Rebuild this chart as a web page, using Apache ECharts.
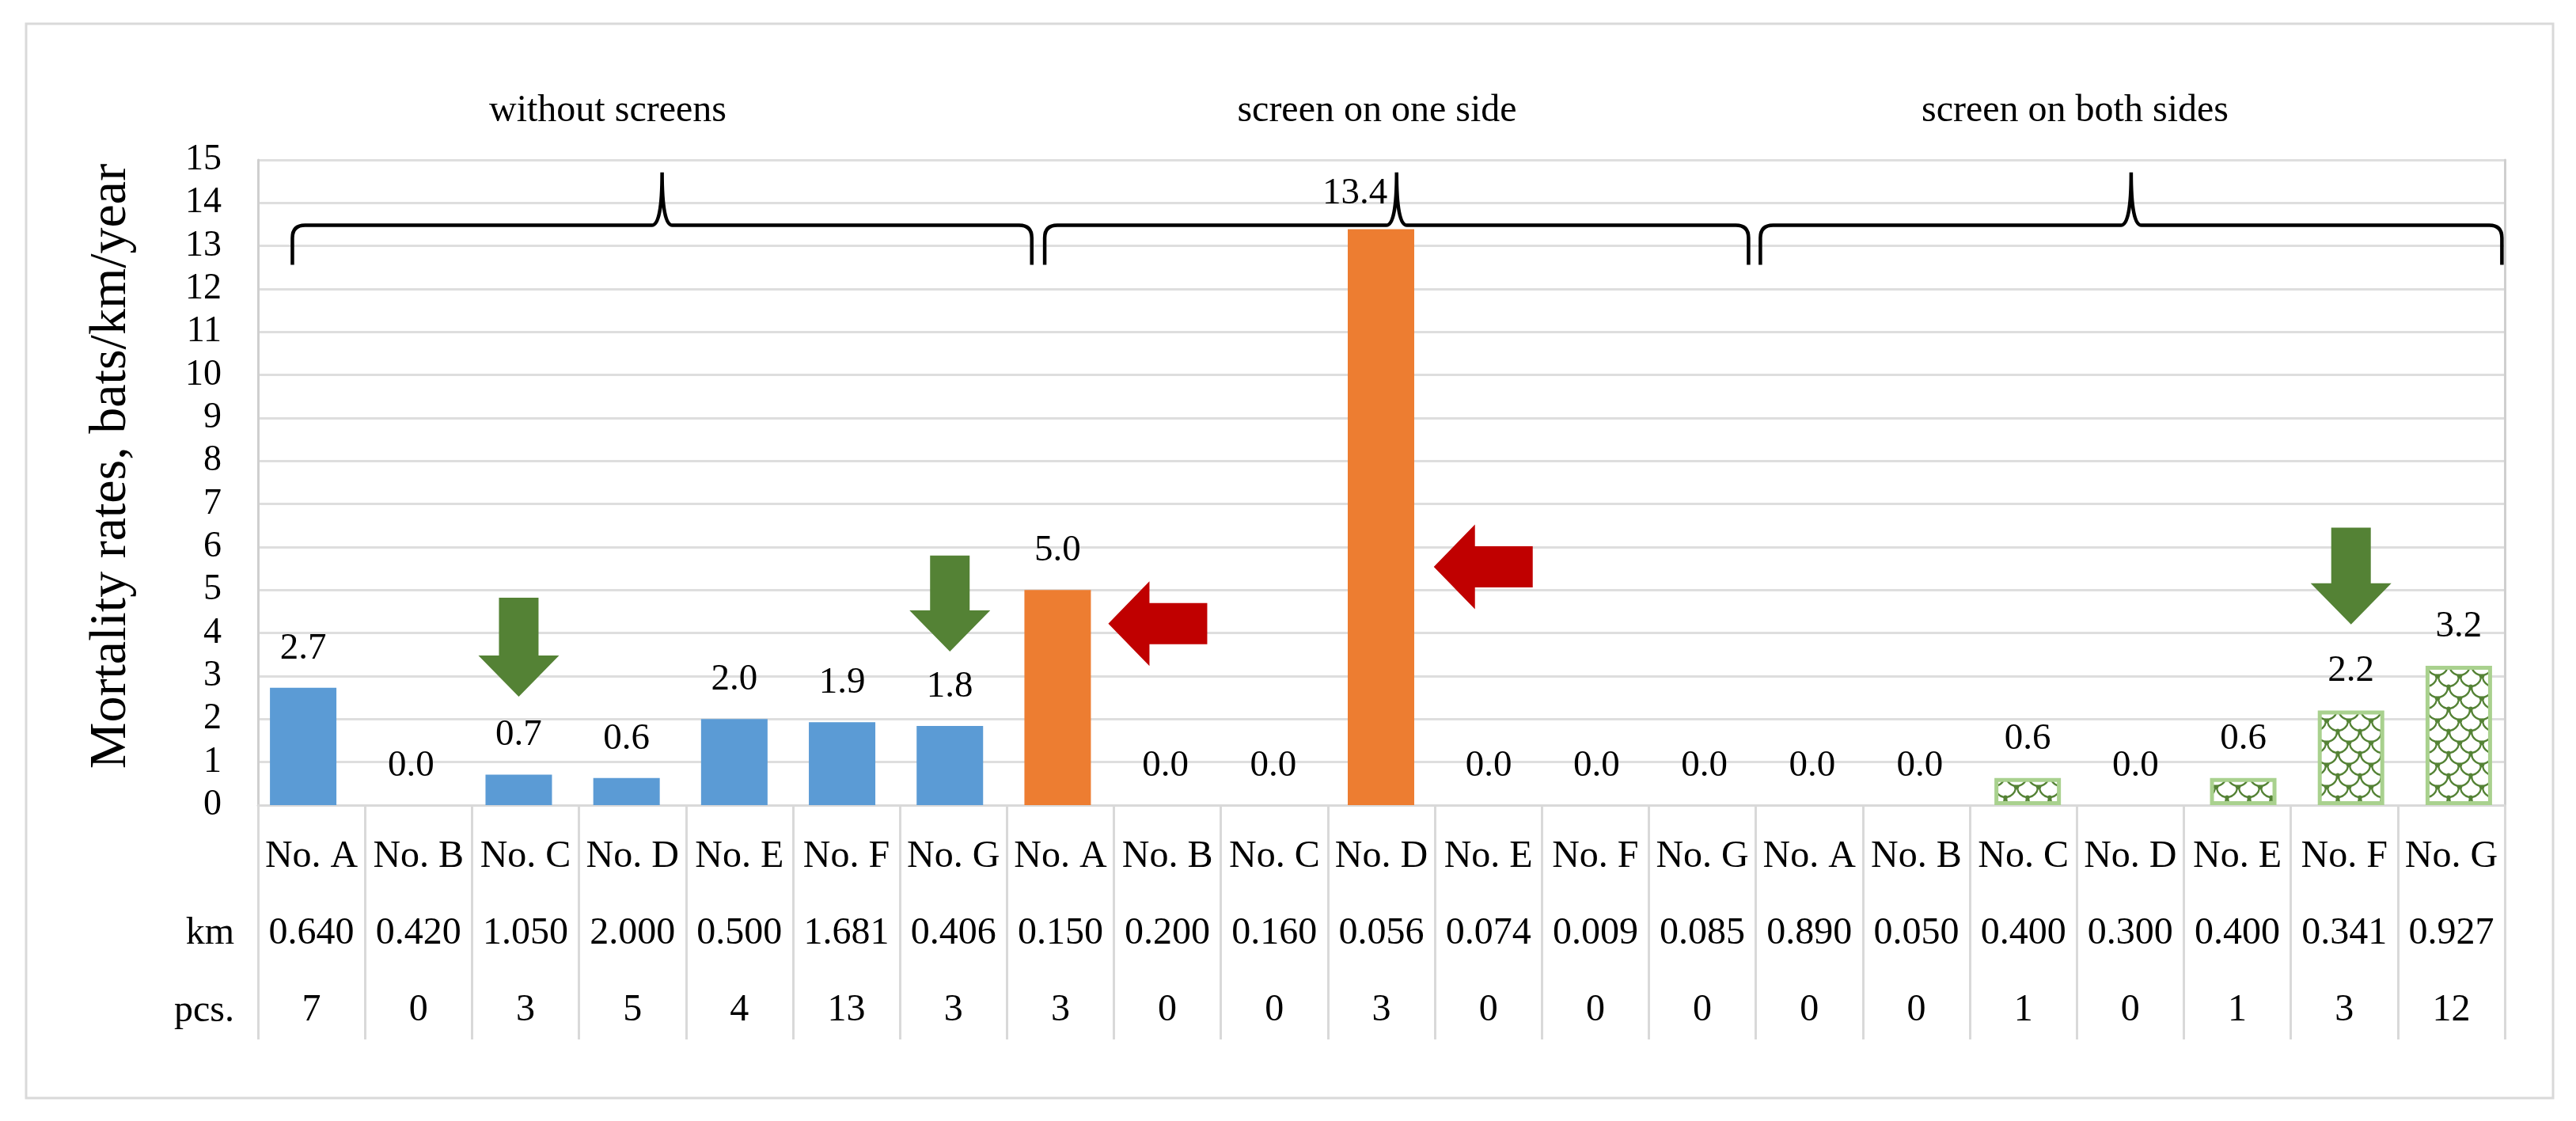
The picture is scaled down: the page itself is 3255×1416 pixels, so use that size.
<!DOCTYPE html>
<html><head><meta charset="utf-8">
<script src="https://cdn.jsdelivr.net/npm/echarts@6/dist/echarts.min.js"></script>
<style>html,body{margin:0;padding:0;background:#fff}#c{width:3255px;height:1416px}</style>
</head><body><div id="c"></div>
<script>
// ---------------- data ----------------
const sites = ['No. A','No. B','No. C','No. D','No. E','No. F','No. G',
               'No. A','No. B','No. C','No. D','No. E','No. F','No. G',
               'No. A','No. B','No. C','No. D','No. E','No. F','No. G'];
const kmRow = ['0.640','0.420','1.050','2.000','0.500','1.681','0.406',
               '0.150','0.200','0.160','0.056','0.074','0.009','0.085',
               '0.890','0.050','0.400','0.300','0.400','0.341','0.927'];
const pcsRow = [7,0,3,5,4,13,3, 3,0,0,3,0,0,0, 0,0,1,0,1,3,12];
const rowLabels = ['km','pcs.'];
const ratesNone = [2.73,0,0.71,0.63,2.0,1.93,1.84];   // without screens
const ratesOne  = [5.0,0,0,13.39,0,0,0];               // screen on one side
const ratesBoth = [0,0,0.63,0,0.63,2.2,3.24];          // screen on both sides
const groupTitles = ['without screens','screen on one side','screen on both sides'];
const yMin = 0, yMax = 15, yStep = 1;
const yTitle = 'Mortality rates, bats/km/year';
// annotations (in bar-slot units / y values)
const braces = [[-0.1, 6.76], [6.88, 13.41], [13.52, 20.4]];
const braceLevels = [12.56, 13.48, 14.71];   // end, bar, tip
const greenArrows = [[2, 4.82, 2.52], [6, 5.8, 3.57], [19, 6.45, 4.2]];  // x, top, tip
const redArrows = [[7.47, 4.22], [10.49, 5.54]];  // tip x, y

// ---------------- styling ----------------
const FONT = 'Liberation Serif';
const BLUE = '#5b9bd5', ORANGE = '#ed7d31', LGREEN = '#a9d18e', DGREEN = '#548235', RED = '#c00000';

function makePattern() {
  const c = document.createElement('canvas');
  c.width = 28; c.height = 28;
  const g = c.getContext('2d');
  g.fillStyle = '#fff'; g.fillRect(0, 0, 28, 28);
  g.strokeStyle = DGREEN; g.lineWidth = 2.4;
  g.beginPath(); g.arc(14, 14, 13, 0, Math.PI); g.stroke();
  g.beginPath(); g.arc(0, 0, 13, 0, Math.PI / 2); g.stroke();
  g.beginPath(); g.arc(28, 0, 13, Math.PI / 2, Math.PI); g.stroke();
  g.fillStyle = DGREEN;
  [[1,14],[27,14],[14,1],[14,27]].forEach(p => { g.beginPath(); g.arc(p[0], p[1], 2.4, 0, Math.PI * 2); g.fill(); });
  return c;
}

const n = sites.length;
const pad = (k) => Array(k).fill('-');
const blueData = ratesNone.concat(pad(14));
const orangeData = pad(7).concat(ratesOne, pad(7)).map((v, i) => i === 10 ? {value: v, label: {offset: [-33, 5]}} : v);
const greenData = pad(14).concat(ratesBoth).map(v => v === 0 ? {value: 0, itemStyle: {borderWidth: 0}} : v);

const labelCfg = {
  show: true, position: 'top', distance: 26,
  fontFamily: FONT, fontSize: 47, color: '#000',
  formatter: p => Number(p.value).toFixed(1)
};

const chart = echarts.init(document.getElementById('c'), null, {renderer: 'canvas'});
chart.setOption({
  animation: false,
  backgroundColor: '#fff',
  grid: [
    {left: 326, right: 90, top: 202, bottom: 399},
    {left: 315, right: 80, top: 202, bottom: 399}
  ],
  xAxis: [
    {
      type: 'category', gridIndex: 0, data: sites, boundaryGap: true,
      axisLine: {show: true, lineStyle: {color: '#d9d9d9', width: 3}},
      axisTick: {show: true, interval: 0, length: 296, lineStyle: {color: '#d9d9d9', width: 3}},
      axisLabel: {
        interval: 0, margin: 17, fontFamily: FONT, fontSize: 48, color: '#000', lineHeight: 97,
        formatter: (v, i) => v + '\n' + kmRow[i] + '\n' + pcsRow[i]
      },
      splitLine: {show: false}
    },
    {type: 'category', gridIndex: 1, data: sites, show: false, boundaryGap: true},
    {type: 'value', gridIndex: 1, min: -0.5, max: n - 0.5, show: false, position: 'top'}
  ],
  yAxis: [
    {
      type: 'value', gridIndex: 0, min: yMin, max: yMax, interval: yStep,
      axisLine: {show: true, lineStyle: {color: '#cfcfcf', width: 3}},
      axisTick: {show: false},
      axisLabel: {margin: 46, fontFamily: FONT, fontSize: 46, color: '#000'},
      splitLine: {show: true, lineStyle: {color: '#dedede', width: 3}}
    },
    {
      type: 'value', gridIndex: 0, min: yMin, max: yMax, interval: yStep, position: 'right',
      axisLine: {show: true, lineStyle: {color: '#cfcfcf', width: 3}},
      axisTick: {show: false}, axisLabel: {show: false}, splitLine: {show: false}
    },
    {type: 'value', gridIndex: 1, min: yMin, max: yMax, interval: yStep, show: false, splitLine: {show: false}}
  ],
  series: [
    {
      type: 'bar', name: groupTitles[0], xAxisIndex: 1, yAxisIndex: 2, data: blueData,
      barWidth: 84, barGap: '-100%', itemStyle: {color: BLUE}, label: labelCfg
    },
    {
      type: 'bar', name: groupTitles[1], xAxisIndex: 1, yAxisIndex: 2, data: orangeData,
      barWidth: 84, barGap: '-100%', itemStyle: {color: ORANGE}, label: labelCfg
    },
    {
      type: 'bar', name: groupTitles[2], xAxisIndex: 1, yAxisIndex: 2, data: greenData,
      barWidth: 84, barGap: '-100%',
      itemStyle: {color: {image: makePattern(), repeat: 'repeat'}, borderColor: LGREEN, borderWidth: 5},
      label: labelCfg
    },
    {
      type: 'custom', xAxisIndex: 2, yAxisIndex: 2, silent: true, z: 10, clip: false,
      data: braces.map(b => [b[0], b[1], braceLevels[1]]),
      encode: {x: [0, 1], y: 2},
      renderItem: (params, api) => {
        const x0 = api.value(0), x1 = api.value(1);
        const pL = api.coord([x0, braceLevels[1]]);
        const pR = api.coord([x1, braceLevels[1]]);
        const yb = pL[1];
        const ye = api.coord([x0, braceLevels[0]])[1];
        const yt = api.coord([x0, braceLevels[2]])[1];
        const L = pL[0], R = pR[0], M = (L + R) / 2, r = 16, s = 13;
        const d = `M${L},${ye} L${L},${yb + r} Q${L},${yb} ${L + r},${yb} L${M - s},${yb} Q${M},${yb} ${M},${yt} ` +
                  `Q${M},${yb} ${M + s},${yb} L${R - r},${yb} Q${R},${yb} ${R},${yb + r} L${R},${ye}`;
        return {type: 'path', shape: {pathData: d}, style: {fill: null, stroke: '#000', lineWidth: 4.5}};
      }
    },
    {
      type: 'custom', xAxisIndex: 2, yAxisIndex: 2, silent: true, z: 10, clip: false,
      data: greenArrows, encode: {x: 0, y: [1, 2]},
      renderItem: (params, api) => {
        const top = api.coord([api.value(0), api.value(1)]);
        const tip = api.coord([api.value(0), api.value(2)]);
        const cx = top[0], yt = top[1], yp = tip[1], W = 102, S = 50, H = 52, yh = yp - H;
        return {type: 'polygon', shape: {points: [
          [cx - S / 2, yt], [cx + S / 2, yt], [cx + S / 2, yh], [cx + W / 2, yh],
          [cx, yp], [cx - W / 2, yh], [cx - S / 2, yh]]}, style: {fill: DGREEN}};
      }
    },
    {
      type: 'custom', xAxisIndex: 2, yAxisIndex: 2, silent: true, z: 10, clip: false,
      data: redArrows, encode: {x: 0, y: 1},
      renderItem: (params, api) => {
        const p = api.coord([api.value(0), api.value(1)]);
        const tx = p[0], ty = p[1], Lh = 52, Lt = 125, Hh = 53.5, Hs = 26;
        return {type: 'polygon', shape: {points: [
          [tx, ty], [tx + Lh, ty - Hh], [tx + Lh, ty - Hs], [tx + Lt, ty - Hs],
          [tx + Lt, ty + Hs], [tx + Lh, ty + Hs], [tx + Lh, ty + Hh]]}, style: {fill: RED}};
      }
    }
  ],
  graphic: [
    {type: 'rect', shape: {x: 33, y: 30, width: 3193, height: 1357}, style: {fill: null, stroke: '#d9d9d9', lineWidth: 3}, z: -1},
    {type: 'text', x: 141, y: 589, rotation: Math.PI / 2,
     style: {text: yTitle, font: `66px "${FONT}"`, fill: '#000', textAlign: 'center', textVerticalAlign: 'middle'}},
    {type: 'text', x: 768, y: 140, style: {text: groupTitles[0], font: `48px "${FONT}"`, fill: '#000', textAlign: 'center', textVerticalAlign: 'middle'}},
    {type: 'text', x: 1740, y: 140, style: {text: groupTitles[1], font: `48px "${FONT}"`, fill: '#000', textAlign: 'center', textVerticalAlign: 'middle'}},
    {type: 'text', x: 2622, y: 140, style: {text: groupTitles[2], font: `48px "${FONT}"`, fill: '#000', textAlign: 'center', textVerticalAlign: 'middle'}},
    {type: 'text', x: 296, y: 1179, style: {text: rowLabels[0], font: `48px "${FONT}"`, fill: '#000', textAlign: 'right', textVerticalAlign: 'middle'}},
    {type: 'text', x: 296, y: 1277, style: {text: rowLabels[1], font: `48px "${FONT}"`, fill: '#000', textAlign: 'right', textVerticalAlign: 'middle'}}
  ]
});
</script></body></html>
